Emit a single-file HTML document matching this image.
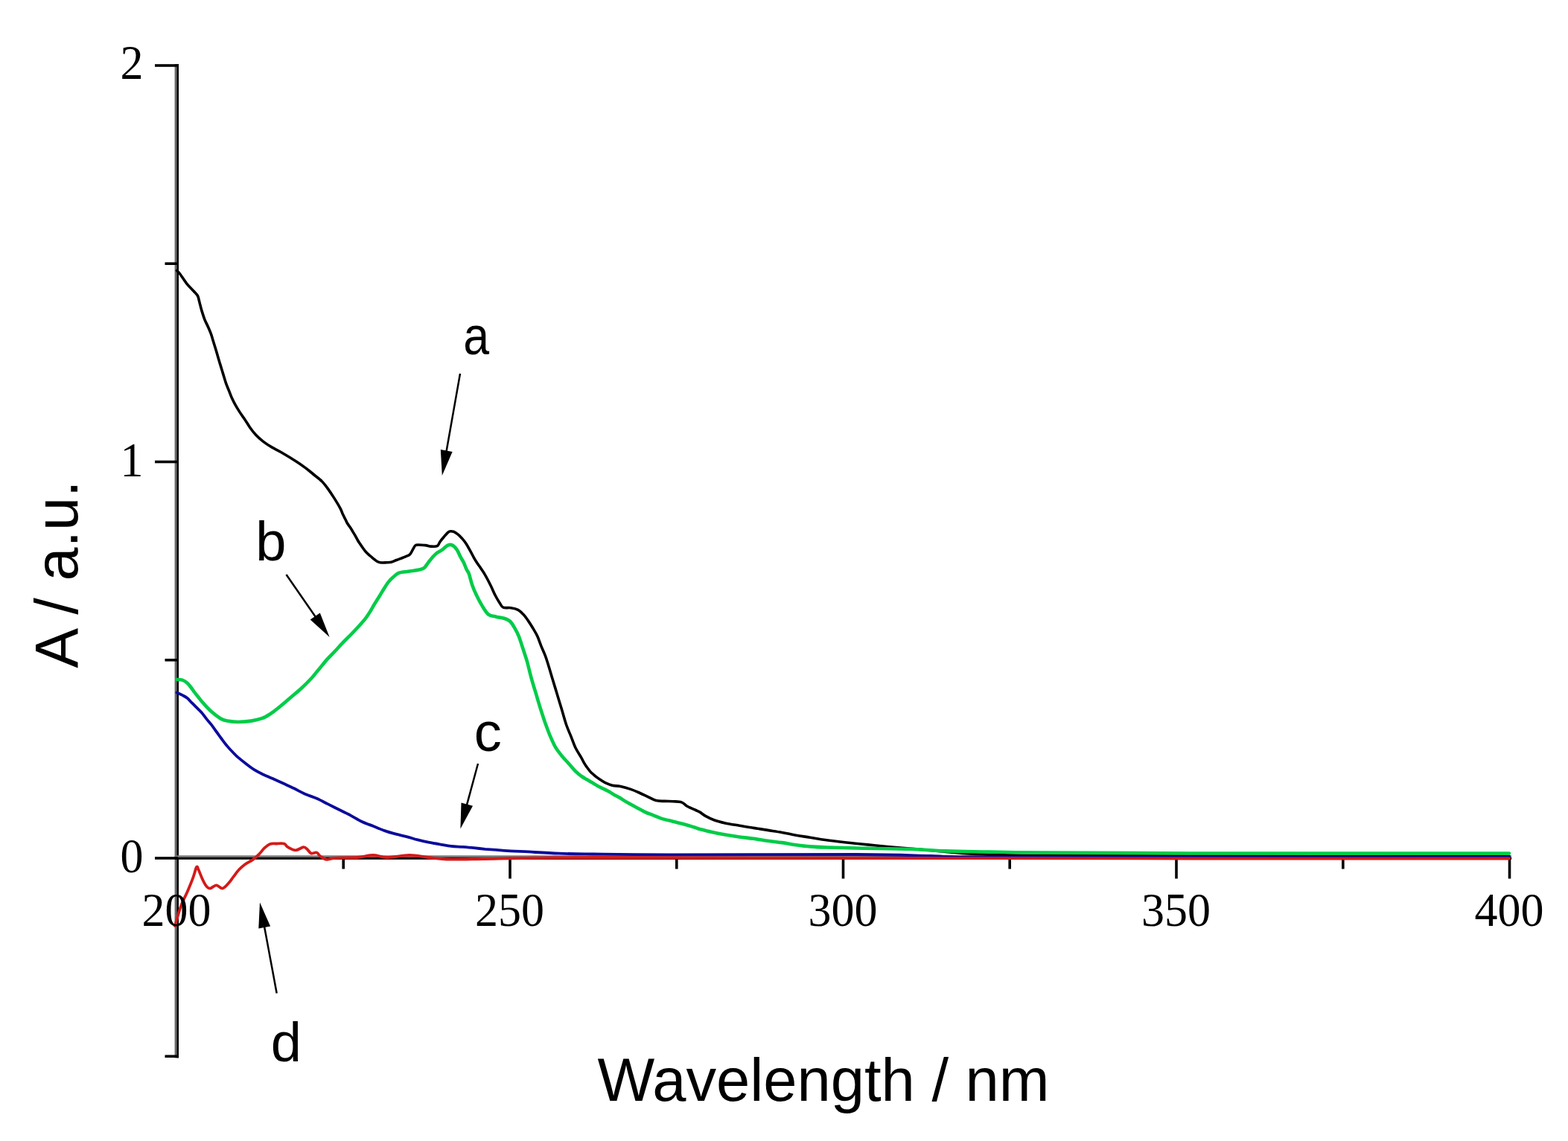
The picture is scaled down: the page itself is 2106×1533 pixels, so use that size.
<!DOCTYPE html>
<html><head><meta charset="utf-8"><title>UV-Vis spectra</title>
<style>html,body{margin:0;padding:0;background:#fff;}body{width:2106px;height:1533px;overflow:hidden;}svg{display:block;}</style>
</head><body>
<svg width="2106" height="1533" viewBox="0 0 2106 1533"><rect width="100%" height="100%" fill="#fff"/><rect x="234.6" y="86" width="3" height="1335.5" fill="#6a6a6a"/><rect x="237.4" y="86" width="2.6" height="1335.5" fill="#000"/><rect x="234.6" y="1149.3" width="1795.5" height="2.8" fill="#7a7a7a"/><rect x="234.6" y="1151.9" width="1795.5" height="2.9" fill="#000"/><g stroke="#000" stroke-width="3.6" fill="none"><line x1="208" y1="88.0" x2="239" y2="88.0"/><line x1="208" y1="620.5" x2="239" y2="620.5"/><line x1="208" y1="1153.0" x2="239" y2="1153.0"/><line x1="221.5" y1="354.2" x2="239" y2="354.2"/><line x1="221.5" y1="886.8" x2="239" y2="886.8"/><line x1="221.5" y1="1419.2" x2="239" y2="1419.2"/><line x1="685.0" y1="1152" x2="685.0" y2="1180.5"/><line x1="1132.5" y1="1152" x2="1132.5" y2="1180.5"/><line x1="1580.0" y1="1152" x2="1580.0" y2="1180.5"/><line x1="2027.5" y1="1152" x2="2027.5" y2="1180.5"/><line x1="461.2" y1="1152" x2="461.2" y2="1167.5"/><line x1="908.8" y1="1152" x2="908.8" y2="1167.5"/><line x1="1356.2" y1="1152" x2="1356.2" y2="1167.5"/><line x1="1803.8" y1="1152" x2="1803.8" y2="1167.5"/></g><g fill="none" stroke-linejoin="round" stroke-linecap="round"><path d="M237.5 363.5C238.1 364.2 239.1 364.6 241.3 367.5C243.5 370.4 247.5 376.9 250.6 380.8C253.7 384.7 257.5 388.2 260.0 391.0C262.5 393.8 264.2 394.8 265.5 397.3C266.8 399.8 267.0 402.5 267.9 405.9C268.8 409.3 269.8 413.7 271.0 417.6C272.2 421.5 273.5 425.7 274.9 429.3C276.3 432.9 278.2 436.2 279.6 439.5C281.0 442.8 282.3 445.6 283.5 448.9C284.7 452.2 285.4 455.1 286.6 459.1C287.8 463.1 289.3 467.6 290.8 472.7C292.3 477.8 294.2 484.5 295.7 489.4C297.2 494.3 298.3 497.9 299.6 502.1C300.9 506.3 302.2 511.0 303.5 514.8C304.8 518.5 306.1 521.3 307.4 524.6C308.7 527.9 309.8 531.1 311.3 534.4C312.8 537.6 314.4 540.9 316.2 544.1C318.0 547.4 320.0 550.6 322.1 553.9C324.2 557.2 326.6 560.3 328.9 563.7C331.2 567.1 333.4 571.1 335.8 574.5C338.2 577.9 340.7 581.2 343.6 584.3C346.5 587.4 349.8 590.3 353.4 593.1C357.0 595.9 361.0 598.5 365.1 600.9C369.2 603.3 372.1 604.4 377.8 607.7C383.5 611.0 393.8 617.3 399.4 620.9C404.9 624.5 407.4 626.4 411.1 629.2C414.9 632.1 418.3 635.0 421.9 638.0C425.5 641.0 429.5 643.8 432.6 646.9C435.7 650.0 437.8 653.0 440.4 656.6C443.0 660.2 445.5 664.0 448.3 668.4C451.1 672.8 455.2 679.5 457.2 683.3C459.2 687.1 459.4 688.7 460.5 691.1C461.6 693.5 462.9 695.7 463.9 697.7C464.9 699.7 465.5 701.4 466.6 703.3C467.7 705.1 469.3 706.9 470.5 708.8C471.7 710.6 472.8 712.5 473.9 714.4C475.0 716.2 476.1 718.0 477.2 719.9C478.3 721.8 479.4 724.1 480.5 726.0C481.6 727.9 482.7 729.3 483.8 731.0C484.9 732.7 486.0 734.3 487.2 736.0C488.4 737.7 489.7 739.5 491.0 741.0C492.3 742.5 493.6 743.7 494.9 744.9C496.2 746.1 497.5 747.1 498.8 748.2C500.1 749.3 501.2 750.4 502.7 751.5C504.2 752.6 505.9 754.1 507.7 754.9C509.4 755.6 511.3 755.9 513.2 756.0C515.1 756.1 516.9 755.9 519.0 755.8C521.1 755.7 523.2 755.9 525.6 755.3C528.0 754.7 530.0 753.5 533.2 752.3C536.4 751.0 541.7 749.1 544.6 747.8C547.5 746.5 548.9 746.5 550.7 744.7C552.5 742.9 553.8 739.2 555.2 737.1C556.6 735.0 556.3 733.0 559.0 732.2C561.7 731.5 567.9 732.3 571.2 732.6C574.5 732.9 576.1 733.9 578.8 734.1C581.4 734.3 585.1 734.7 587.1 733.7C589.1 732.7 589.4 730.1 590.9 728.0C592.4 725.9 594.3 723.5 596.3 721.2C598.3 718.9 601.0 715.4 603.1 714.3C605.2 713.1 607.2 713.7 609.2 714.3C611.2 714.9 613.4 716.6 615.3 718.1C617.2 719.6 618.8 721.4 620.6 723.4C622.4 725.4 624.1 727.6 625.9 730.3C627.7 733.0 629.4 736.2 631.2 739.4C633.0 742.6 635.0 746.6 636.5 749.3C638.0 752.0 638.0 752.0 640.4 755.7C642.8 759.4 647.8 766.1 650.9 771.3C654.0 776.5 656.8 782.1 659.2 787.0C661.6 791.9 663.4 796.5 665.5 800.5C667.6 804.5 670.0 808.4 671.7 811.0C673.4 813.6 673.5 815.2 675.9 816.2C678.3 817.2 683.0 816.2 686.3 816.7C689.6 817.2 692.9 817.8 695.7 819.3C698.5 820.8 700.7 823.2 703.0 825.6C705.3 828.0 707.0 830.6 709.3 833.9C711.6 837.2 714.5 841.9 716.6 845.4C718.7 848.9 720.1 851.0 721.8 854.8C723.5 858.6 725.2 864.0 727.0 868.4C728.8 872.8 730.8 877.0 732.3 880.9C733.8 884.8 734.4 887.0 736.0 892.0C737.6 897.0 739.7 904.3 741.7 910.9C743.7 917.5 745.9 924.8 748.0 931.7C750.1 938.7 752.2 945.6 754.3 952.6C756.4 959.6 758.4 967.4 760.5 973.5C762.6 979.6 764.7 983.9 766.8 989.1C768.9 994.3 770.7 1000.1 773.0 1004.8C775.3 1009.5 778.4 1013.9 780.4 1017.3C782.4 1020.7 783.4 1023.2 784.7 1025.4C786.0 1027.7 786.9 1028.9 788.3 1030.8C789.7 1032.7 791.5 1035.2 793.0 1036.9C794.5 1038.6 795.7 1039.4 797.3 1040.8C798.9 1042.2 800.9 1043.8 802.7 1045.1C804.5 1046.4 806.3 1047.6 808.1 1048.7C809.9 1049.8 811.0 1050.8 813.4 1051.9C815.8 1053.0 819.1 1054.4 822.4 1055.2C825.7 1056.0 829.1 1055.7 833.2 1056.6C837.3 1057.5 842.8 1059.0 847.0 1060.4C851.2 1061.8 854.6 1063.3 858.4 1065.0C862.2 1066.7 866.0 1068.5 869.8 1070.3C873.6 1072.1 877.4 1074.6 881.2 1075.6C885.0 1076.6 888.8 1076.2 892.6 1076.4C896.4 1076.6 900.2 1076.5 904.0 1076.7C907.8 1077.0 912.2 1076.8 915.4 1077.9C918.6 1079.0 919.8 1081.4 923.0 1083.2C926.2 1085.0 931.6 1087.2 934.4 1088.5C937.2 1089.8 937.8 1089.8 940.0 1091.1C942.2 1092.4 944.4 1094.6 947.6 1096.4C950.8 1098.2 954.6 1100.1 959.0 1101.7C963.4 1103.3 968.5 1104.6 974.2 1105.9C979.9 1107.2 986.9 1108.2 993.2 1109.3C999.5 1110.4 1005.9 1111.4 1012.2 1112.4C1018.5 1113.4 1024.9 1114.4 1031.2 1115.4C1037.5 1116.4 1043.9 1117.3 1050.2 1118.4C1056.5 1119.5 1062.9 1121.1 1069.2 1122.2C1075.5 1123.3 1081.7 1124.2 1088.2 1125.3C1094.8 1126.3 1100.4 1127.4 1108.5 1128.5C1116.6 1129.6 1127.5 1130.9 1137.0 1132.0C1146.5 1133.1 1156.0 1134.0 1165.5 1134.9C1175.0 1135.9 1179.9 1136.4 1194.0 1137.7C1208.1 1139.0 1230.7 1140.9 1250.0 1142.5C1269.3 1144.1 1285.0 1146.3 1310.0 1147.5C1335.0 1148.7 1351.7 1149.1 1400.0 1149.5C1448.3 1149.9 1495.5 1149.9 1600.0 1150.0C1704.5 1150.1 1955.8 1150.2 2027.0 1150.2" stroke="#000" stroke-width="3.6"/><path d="M237.5 930.5C238.7 931.1 242.5 932.7 244.8 933.9C247.1 935.1 249.1 936.0 251.3 937.8C253.5 939.5 255.6 942.2 257.8 944.4C260.0 946.6 262.2 948.7 264.4 950.9C266.6 953.1 268.7 954.9 270.9 957.4C273.1 959.9 275.2 963.2 277.4 965.9C279.6 968.6 281.7 970.9 283.9 973.7C286.1 976.6 288.3 979.9 290.6 983.0C292.9 986.1 295.1 989.3 297.5 992.5C299.9 995.7 302.6 999.4 305.1 1002.4C307.6 1005.4 309.9 1007.8 312.3 1010.3C314.7 1012.8 316.5 1014.8 319.5 1017.4C322.5 1020.0 326.6 1023.2 330.2 1026.0C333.8 1028.8 337.4 1031.6 341.0 1033.9C344.6 1036.2 347.6 1037.7 351.8 1039.7C356.0 1041.7 361.3 1043.9 366.1 1046.1C370.9 1048.2 375.7 1050.4 380.5 1052.6C385.3 1054.8 390.1 1056.9 395.0 1059.3C399.9 1061.7 405.1 1064.8 410.2 1067.0C415.3 1069.2 420.3 1070.6 425.4 1072.8C430.5 1075.0 435.5 1077.9 440.6 1080.4C445.7 1082.9 450.7 1085.5 455.8 1088.0C460.9 1090.5 465.9 1092.9 471.0 1095.6C476.1 1098.3 481.1 1101.6 486.2 1104.0C491.3 1106.4 496.3 1108.0 501.4 1110.0C506.5 1112.0 511.5 1114.3 516.6 1116.1C521.7 1117.9 526.7 1119.3 531.8 1120.7C536.9 1122.1 542.3 1123.0 547.0 1124.3C551.7 1125.5 555.5 1127.0 560.2 1128.2C564.9 1129.4 570.3 1130.7 575.4 1131.7C580.5 1132.7 585.5 1133.5 590.6 1134.3C595.7 1135.1 600.7 1136.2 605.8 1136.8C610.9 1137.4 615.9 1137.5 621.0 1137.9C626.1 1138.3 631.1 1138.7 636.2 1139.2C641.3 1139.7 646.3 1140.3 651.4 1140.8C656.5 1141.2 661.5 1141.5 666.6 1141.9C671.7 1142.3 675.4 1142.8 681.8 1143.2C688.2 1143.6 693.5 1143.6 705.0 1144.2C716.5 1144.8 735.7 1146.2 751.0 1146.7C766.3 1147.2 771.9 1147.2 796.7 1147.5C821.5 1147.8 841.1 1148.2 900.0 1148.3C958.9 1148.4 1091.7 1147.7 1150.0 1148.0C1208.3 1148.3 1223.3 1149.4 1250.0 1150.0C1276.7 1150.6 1251.7 1151.2 1310.0 1151.5C1368.3 1151.8 1480.5 1151.9 1600.0 1152.0C1719.5 1152.1 1955.8 1152.0 2027.0 1152.0" stroke="#0c0c9c" stroke-width="3.8"/><path d="M235.0 1244.0C236.3 1239.6 240.2 1225.1 243.0 1217.4C245.8 1209.7 249.0 1204.3 251.8 1197.8C254.6 1191.3 257.6 1183.8 259.6 1178.3C261.6 1172.8 262.8 1166.6 264.0 1165.0C265.2 1163.4 265.3 1165.8 266.6 1168.5C267.9 1171.2 270.1 1177.3 271.8 1181.0C273.5 1184.7 275.3 1188.3 277.0 1190.4C278.7 1192.5 279.9 1193.8 282.2 1193.6C284.5 1193.4 287.8 1189.4 290.6 1189.4C293.4 1189.4 296.1 1194.1 298.9 1193.6C301.7 1193.1 304.9 1188.9 307.3 1186.3C309.8 1183.7 311.3 1180.9 313.6 1177.9C315.9 1174.9 318.3 1171.3 320.9 1168.5C323.5 1165.7 326.1 1163.5 329.2 1161.2C332.3 1158.9 336.6 1157.2 339.7 1154.9C342.8 1152.6 345.4 1150.2 348.0 1147.6C350.6 1145.0 352.9 1141.5 355.4 1139.2C357.8 1136.9 360.1 1135.0 362.7 1134.0C365.3 1133.0 367.9 1133.6 371.0 1133.5C374.1 1133.4 378.9 1132.7 381.5 1133.5C384.1 1134.3 384.1 1136.7 386.7 1138.2C389.3 1139.7 393.6 1142.4 397.1 1142.4C400.6 1142.4 405.0 1138.4 407.6 1138.2C410.2 1138.0 411.1 1139.9 412.8 1141.3C414.5 1142.7 415.9 1145.9 418.0 1146.6C420.1 1147.3 423.2 1144.8 425.3 1145.5C427.4 1146.2 428.3 1149.1 430.6 1150.7C432.9 1152.3 435.7 1154.6 438.9 1154.9C442.1 1155.2 443.1 1153.3 450.0 1152.8C456.9 1152.3 471.5 1152.6 480.0 1152.0C488.5 1151.4 494.3 1149.0 501.0 1149.0C507.7 1149.0 511.8 1152.0 520.0 1152.0C528.2 1152.0 540.8 1149.0 550.0 1149.0C559.2 1149.0 566.7 1151.1 575.0 1152.0C583.3 1152.9 587.5 1154.2 600.0 1154.5C612.5 1154.8 633.3 1154.2 650.0 1154.0C666.7 1153.8 675.0 1153.3 700.0 1153.0C725.0 1152.7 716.7 1152.0 800.0 1152.0C883.3 1152.0 1066.7 1152.8 1200.0 1153.0C1333.3 1153.2 1462.2 1153.4 1600.0 1153.5C1737.8 1153.6 1955.8 1153.5 2027.0 1153.5" stroke="#d41a1a" stroke-width="3.8"/><path d="M237.5 913.0C238.7 913.1 242.5 912.9 244.8 913.7C247.1 914.5 249.4 916.0 251.3 917.6C253.2 919.2 254.9 921.4 256.5 923.5C258.1 925.6 259.5 927.8 261.1 930.0C262.7 932.2 264.6 934.3 266.3 936.5C268.0 938.7 269.6 940.9 271.5 943.1C273.4 945.3 275.3 947.4 277.4 949.6C279.5 951.8 281.7 954.2 283.9 956.1C286.1 958.0 288.2 959.7 290.4 961.3C292.6 962.9 294.6 964.7 297.0 965.9C299.4 967.1 301.2 967.8 305.0 968.5C308.8 969.2 314.1 970.0 319.5 970.0C324.9 970.0 332.0 969.4 337.4 968.6C342.8 967.8 347.6 966.7 351.8 965.2C356.0 963.7 359.0 961.8 362.6 959.5C366.2 957.2 368.8 955.2 373.3 951.5C377.9 947.8 384.7 941.9 389.9 937.5C395.1 933.1 399.7 929.5 404.3 925.3C408.9 921.0 413.5 916.4 417.6 912.0C421.7 907.6 425.0 903.1 428.7 898.7C432.4 894.3 436.0 889.6 439.8 885.4C443.6 881.1 447.9 877.1 451.5 873.2C455.1 869.3 458.3 865.7 461.7 862.2C465.1 858.7 468.4 855.6 471.9 852.0C475.4 848.4 479.6 843.9 482.9 840.3C486.2 836.6 489.0 833.4 491.5 830.1C494.0 826.8 495.8 823.8 497.7 820.7C499.6 817.6 501.2 814.5 503.2 811.3C505.2 808.0 507.4 804.6 509.5 801.2C511.6 797.8 513.6 794.3 515.7 791.0C517.8 787.7 519.9 784.2 522.0 781.6C524.1 779.0 526.0 777.2 528.2 775.3C530.4 773.3 532.7 771.1 535.3 769.9C537.9 768.7 541.4 768.7 543.9 768.3C546.4 767.9 546.7 768.0 550.0 767.5C553.3 767.0 560.3 766.0 563.6 765.2C566.9 764.5 567.8 764.5 569.7 763.0C571.6 761.5 573.1 758.5 575.0 756.1C576.9 753.7 579.2 750.6 581.1 748.5C583.0 746.4 584.2 744.9 586.4 743.2C588.5 741.6 591.5 740.4 594.0 738.6C596.5 736.8 599.3 733.6 601.6 732.6C603.9 731.6 605.7 731.6 607.7 732.6C609.7 733.6 611.9 736.1 613.7 738.6C615.5 741.1 616.8 744.9 618.3 747.8C619.8 750.7 621.5 753.2 622.9 756.1C624.3 759.0 625.5 762.7 626.7 765.2C627.9 767.7 628.8 767.8 630.0 771.3C631.2 774.8 632.5 781.0 634.2 785.9C635.9 790.8 638.1 795.8 640.4 800.5C642.6 805.2 645.1 809.9 647.7 814.1C650.3 818.3 653.0 823.2 656.1 825.6C659.2 828.0 663.0 827.8 666.5 828.7C670.0 829.6 673.9 829.8 677.0 830.8C680.1 831.8 682.9 832.7 685.3 835.0C687.7 837.3 689.7 841.1 691.6 844.4C693.5 847.7 695.2 851.0 696.8 854.8C698.4 858.6 699.6 863.1 701.0 867.3C702.4 871.5 703.9 876.0 705.1 879.8C706.3 883.6 706.9 884.8 708.3 890.0C709.7 895.2 711.7 903.9 713.6 910.9C715.5 917.9 717.7 924.8 719.8 931.7C721.9 938.7 724.0 946.0 726.1 952.6C728.2 959.2 730.2 965.5 732.3 971.4C734.4 977.3 736.3 982.7 738.6 988.1C740.9 993.5 743.3 999.2 745.9 1003.7C748.5 1008.2 751.3 1011.5 754.3 1015.2C757.3 1018.9 760.4 1022.0 763.7 1025.7C767.0 1029.4 771.1 1034.3 774.0 1037.2C776.9 1040.1 778.7 1041.3 781.1 1043.0C783.5 1044.7 785.9 1045.9 788.3 1047.3C790.7 1048.7 793.1 1050.2 795.5 1051.6C797.9 1053.0 800.3 1054.6 802.7 1055.9C805.1 1057.2 807.5 1058.3 809.9 1059.5C812.3 1060.7 814.6 1061.8 817.0 1063.1C819.4 1064.4 821.8 1066.0 824.2 1067.4C826.6 1068.8 828.2 1069.4 831.4 1071.3C834.6 1073.2 839.3 1076.4 843.2 1078.6C847.1 1080.8 850.8 1082.7 854.6 1084.7C858.4 1086.7 862.2 1089.0 866.0 1090.8C869.8 1092.6 873.6 1093.8 877.4 1095.3C881.2 1096.8 884.4 1098.5 888.8 1099.9C893.2 1101.3 898.9 1102.4 904.0 1103.7C909.1 1105.0 914.1 1106.1 919.2 1107.5C924.3 1108.9 930.9 1111.0 934.4 1112.1C937.9 1113.2 936.5 1113.0 940.0 1113.9C943.5 1114.8 949.5 1116.4 955.2 1117.7C960.9 1119.0 967.9 1120.4 974.2 1121.5C980.5 1122.6 986.9 1123.6 993.2 1124.5C999.5 1125.4 1005.9 1125.9 1012.2 1126.8C1018.5 1127.7 1024.9 1128.9 1031.2 1129.8C1037.5 1130.7 1043.9 1131.2 1050.2 1132.1C1056.5 1133.0 1062.9 1134.3 1069.2 1135.2C1075.5 1136.1 1081.4 1136.9 1088.2 1137.4C1095.0 1138.0 1099.7 1138.2 1110.0 1138.5C1120.3 1138.8 1131.2 1139.1 1150.0 1139.5C1168.8 1139.9 1204.2 1140.2 1222.5 1140.8C1240.8 1141.4 1245.4 1142.4 1260.0 1143.0C1274.6 1143.6 1286.7 1143.8 1310.0 1144.2C1333.3 1144.6 1351.7 1145.2 1400.0 1145.6C1448.3 1146.0 1495.5 1146.3 1600.0 1146.5C1704.5 1146.7 1955.8 1146.6 2027.0 1146.6" stroke="#00cc48" stroke-width="4.6"/></g><line x1="618.0" y1="502.0" x2="599.0" y2="609.5" stroke="#000" stroke-width="2.5"/><polygon points="593.8,639.0 591.8,604.1 607.6,606.9" fill="#000"/><line x1="384.5" y1="772.0" x2="425.5" y2="831.3" stroke="#000" stroke-width="2.5"/><polygon points="442.6,856.0 416.7,832.6 429.8,823.5" fill="#000"/><line x1="642.0" y1="1026.0" x2="626.2" y2="1084.4" stroke="#000" stroke-width="2.5"/><polygon points="618.4,1113.4 619.5,1078.5 635.0,1082.7" fill="#000"/><line x1="371.7" y1="1334.6" x2="354.5" y2="1242.0" stroke="#000" stroke-width="2.5"/><polygon points="349.0,1212.5 363.1,1244.5 347.3,1247.4" fill="#000"/><text transform="translate(177.0 106.0) scale(1 1.050)" font-family="Liberation Serif, serif" font-size="62" text-anchor="middle">2</text><text transform="translate(177.0 639.5) scale(1 1.050)" font-family="Liberation Serif, serif" font-size="62" text-anchor="middle">1</text><text transform="translate(177.0 1171.7) scale(1 1.050)" font-family="Liberation Serif, serif" font-size="62" text-anchor="middle">0</text><text transform="translate(237.0 1244.0) scale(1 1.030)" font-family="Liberation Serif, serif" font-size="62" text-anchor="middle">200</text><text transform="translate(684.5 1244.0) scale(1 1.030)" font-family="Liberation Serif, serif" font-size="62" text-anchor="middle">250</text><text transform="translate(1132.0 1244.0) scale(1 1.030)" font-family="Liberation Serif, serif" font-size="62" text-anchor="middle">300</text><text transform="translate(1579.5 1244.0) scale(1 1.030)" font-family="Liberation Serif, serif" font-size="62" text-anchor="middle">350</text><text transform="translate(2027.0 1244.0) scale(1 1.030)" font-family="Liberation Serif, serif" font-size="62" text-anchor="middle">400</text><text transform="translate(639.6 475.5) scale(0.87 1)" font-family="Liberation Sans, sans-serif" text-anchor="middle" font-size="72">a</text><text x="363.8" y="752.5" font-family="Liberation Sans, sans-serif" text-anchor="middle" font-size="74">b</text><text x="655.2" y="1009" font-family="Liberation Sans, sans-serif" text-anchor="middle" font-size="74">c</text><text x="384.3" y="1426" font-family="Liberation Sans, sans-serif" text-anchor="middle" font-size="74">d</text><text x="1106" y="1478.7" font-family="Liberation Sans, sans-serif" text-anchor="middle" font-size="81.3">Wavelength / nm</text><text transform="translate(104.4 771.6) rotate(-90) scale(1.0 1)" font-family="Liberation Sans, sans-serif" text-anchor="middle" font-size="81">A / a.u.</text></svg>
</body></html>
